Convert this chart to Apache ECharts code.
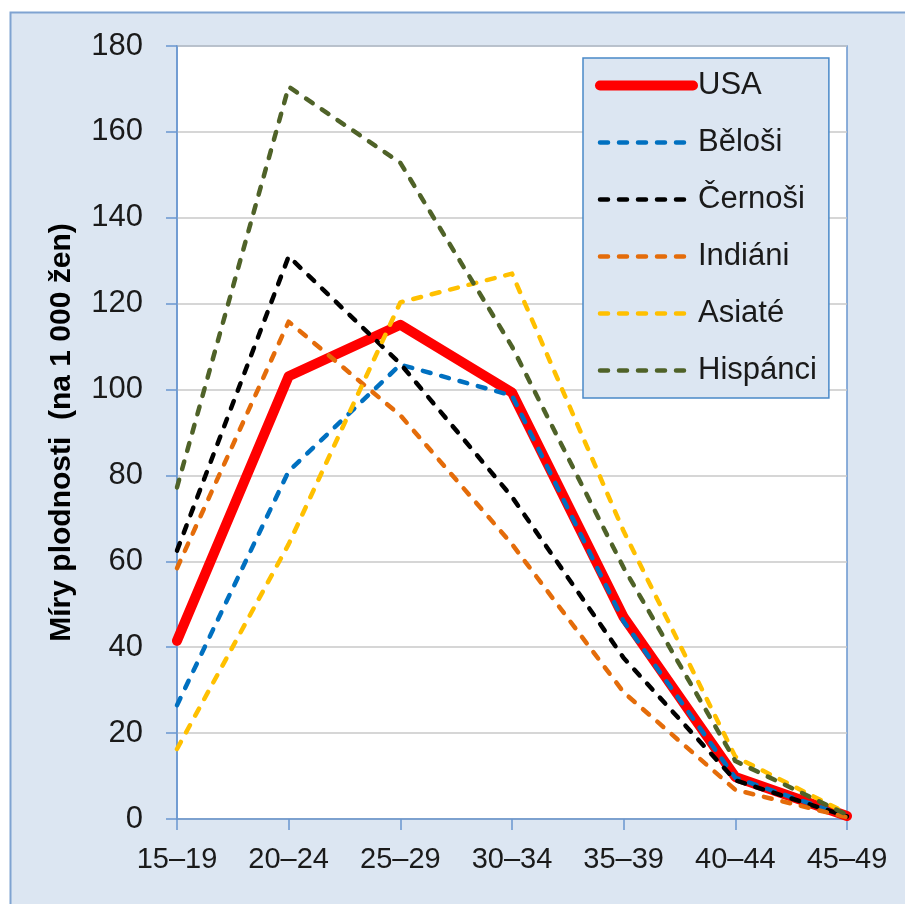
<!DOCTYPE html>
<html>
<head>
<meta charset="utf-8">
<script src="https://cdn.jsdelivr.net/npm/echarts@6/dist/echarts.min.js"></script>
<style>
html,body{margin:0;padding:0;background:#fff;}
#c{width:905px;height:904px;}
</style>
</head>
<body>
<div id="c"></div>
<script>
const categories = ['15–19','20–24','25–29','30–34','35–39','40–44','45–49'];
const usa      = [41.5, 103.1, 115.1, 99.3, 47.0, 9.8, 0.7];
const belosi   = [26.5, 81.0, 105.8, 98.6, 46.0, 9.6, 0.6];
const cernosi  = [62.5, 131.0, 106.0, 75.0, 37.5, 9.0, 0.6];
const indiani  = [58.4, 115.8, 94.0, 64.0, 29.5, 6.8, 0.4];
const asiate   = [16.3, 64.0, 120.3, 127.0, 67.0, 14.5, 1.3];
const hispanci = [77.2, 170.5, 152.8, 110.0, 58.5, 13.5, 1.0];
const yTicks = {min: 0, max: 180, interval: 20};

const FONT = 'Liberation Sans';
const chart = echarts.init(document.getElementById('c'));

const DASH = [8, 11];
const DW = 4.5;
const colors = {
  'USA': '#ff0000', 'Běloši': '#0070c0', 'Černoši': '#000000',
  'Indiáni': '#e46c0a', 'Asiaté': '#ffc000', 'Hispánci': '#4f6228'
};

function dashed(name, data) {
  const color = colors[name];
  return {
    name, type: 'line', data, symbol: 'none',
    lineStyle: {color, width: DW, type: DASH, cap: 'round', join: 'round'},
    itemStyle: {color},
    emphasis: {disabled: true}
  };
}

function legendItem(name) {
  const isUsa = name === 'USA';
  return {
    name,
    itemStyle: {opacity: 0},
    lineStyle: {
      color: colors[name], width: isUsa ? 10 : DW,
      type: isUsa ? 'solid' : DASH, cap: 'round', opacity: 1
    }
  };
}

chart.setOption({
  animation: false,
  graphic: [{
    type: 'rect', silent: true, z: -10,
    shape: {x: 10.5, y: 12.5, width: 1000, height: 1000},
    style: {fill: '#dce6f2', stroke: '#7fa3d1', lineWidth: 2}
  }],
  grid: {
    left: 177, top: 46, right: 58, bottom: 85,
    show: true, backgroundColor: '#ffffff', borderColor: '#6a97d0', borderWidth: 1.5
  },
  legend: {
    orient: 'vertical',
    left: 583, top: 58,
    padding: [12, 12, 12, 12],
    backgroundColor: '#dce6f2',
    borderColor: '#4a89c8', borderWidth: 1.5,
    itemWidth: 93, itemHeight: 14, itemGap: 26,
    textStyle: {fontFamily: FONT, fontSize: 31, color: '#1a1a1a', lineHeight: 30, padding: [0, 0, 0, 0]},
    data: ['USA','Běloši','Černoši','Indiáni','Asiaté','Hispánci'].map(legendItem)
  },
  xAxis: {
    type: 'category', data: categories, boundaryGap: false,
    axisLine: {lineStyle: {color: '#6a97d0', width: 1.5}},
    axisTick: {show: true, length: 11, alignWithLabel: true, lineStyle: {color: '#6a97d0', width: 1.5}},
    axisLabel: {fontFamily: FONT, fontSize: 29, color: '#1a1a1a', margin: 26, interval: 0},
    splitLine: {show: false}
  },
  yAxis: {
    type: 'value', min: yTicks.min, max: yTicks.max, interval: yTicks.interval,
    name: 'Míry plodnosti  (na 1 000 žen)',
    nameLocation: 'middle', nameGap: 100, nameRotate: 90,
    nameTextStyle: {fontFamily: FONT, fontSize: 30, fontWeight: 'bold', color: '#000'},
    axisLine: {show: true, lineStyle: {color: '#6a97d0', width: 1.5}},
    axisTick: {show: true, length: 11, lineStyle: {color: '#6a97d0', width: 1.5}},
    axisLabel: {fontFamily: FONT, fontSize: 31, color: '#1a1a1a', margin: 34},
    splitLine: {show: true, lineStyle: {color: '#c8c8c8', width: 1.5}}
  },
  series: [
    {
      name: 'USA', type: 'line', data: usa, symbol: 'none',
      lineStyle: {color: colors['USA'], width: 10, cap: 'round', join: 'round'},
      itemStyle: {color: colors['USA']},
      emphasis: {disabled: true}
    },
    dashed('Běloši', belosi),
    dashed('Černoši', cernosi),
    dashed('Indiáni', indiani),
    dashed('Asiaté', asiate),
    dashed('Hispánci', hispanci)
  ]
});
</script>
</body>
</html>
